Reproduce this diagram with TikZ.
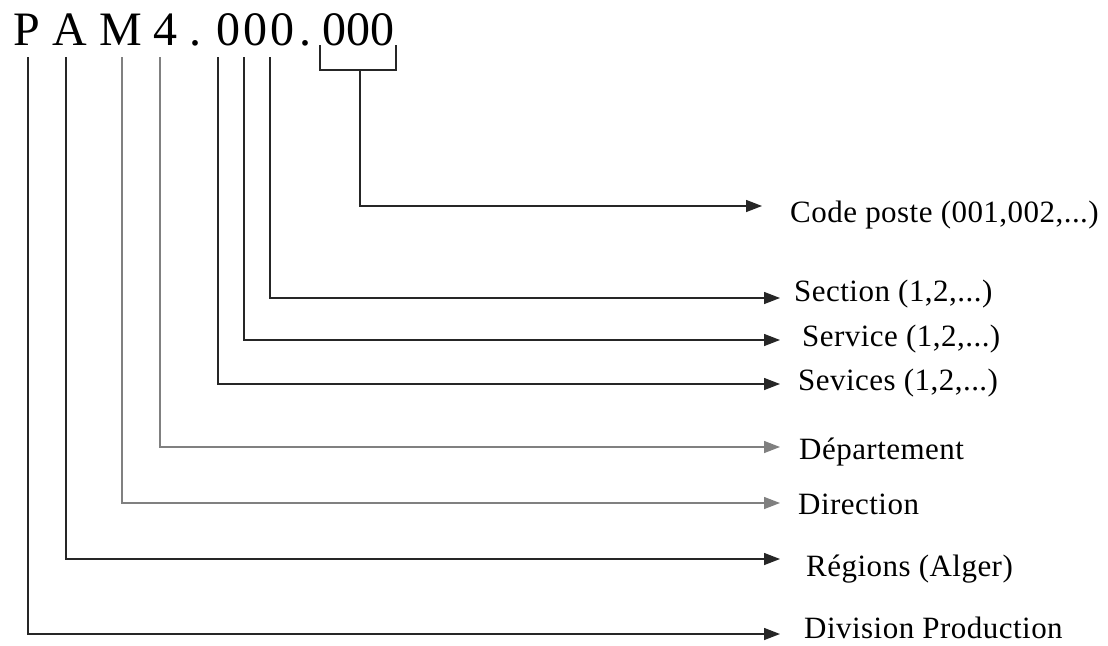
\documentclass[tikz,border=0pt]{standalone}
\usepackage{fontspec}
\setmainfont{Liberation Serif}
\newfontfamily\lblfont[LetterSpace=1.5]{Liberation Serif}
\newfontfamily\widefont[LetterSpace=7]{Liberation Serif}
\usetikzlibrary{arrows.meta}
\tikzset{
  x=1pt, y=-1pt,
  conn/.style={line width=1.4pt, draw=black!85},
  connlight/.style={line width=1.4pt, draw=black!50},
  tip/.style={-{Triangle[length=16pt,width=12pt]}},
  lbl/.style={anchor=base west, inner sep=0pt, font=\lblfont\fontsize{31}{36}\selectfont},
  code/.style={anchor=base west, inner sep=0pt, font=\fontsize{48}{56}\selectfont},
}
\begin{document}
\begin{tikzpicture}
\useasboundingbox (0,0) rectangle (1108,645);
\fill[white] (0,0) rectangle (1108,645);

% the code itself, one part per node
\node[code] (cP)  at (13,45)  {P};
\node[code] (cA)  at (52,45)  {A};
\node[code] (cM)  at (99,45)  {M};
\node[code] (c4)  at (153,45) {4};
\node[code] (cd1) at (189,45) {.};
\node[code] (cg1) at (216,45) {\widefont 000};
\node[code] (cd2) at (299,45) {.};
\node[code] (cg2) at (322,45) {000};

% starting points under each part of the code
\coordinate (sP) at (28,57);
\coordinate (sA) at (66,57);
\coordinate (sM) at (122,57);
\coordinate (s4) at (160,57);
\coordinate (s1) at (218,57);
\coordinate (s2) at (244,57);
\coordinate (s3) at (270,57);
\coordinate (bl) at (320,45);
\coordinate (br) at (396,45);
\coordinate (bm) at (360,70);

% arrow tips
\coordinate (tCode) at (762,206);
\coordinate (tSec)  at (780,298);
\coordinate (tSer)  at (780,340);
\coordinate (tSev)  at (780,384);
\coordinate (tDep)  at (780,447);
\coordinate (tDir)  at (780,503);
\coordinate (tReg)  at (780,559);
\coordinate (tDiv)  at (780,634);

% labels
\node[lbl] (lCode) at (790,222) {Code poste (001,002,...)};
\node[lbl] (lSec)  at (794,301) {Section (1,2,...)};
\node[lbl] (lSer)  at (802,346) {Service (1,2,...)};
\node[lbl] (lSev)  at (798,390) {Sevices (1,2,...)};
\node[lbl] (lDep)  at (799,459) {Département};
\node[lbl] (lDir)  at (798,514) {Direction};
\node[lbl] (lReg)  at (806,576) {Régions (Alger)};
\node[lbl] (lDiv)  at (804,638) {Division Production};

% bracket over the last group of digits
\draw[conn] (bl) -- (bl |- bm) -- (br |- bm) -- (br);

% connectors
\draw[conn,tip] (bm) |- (tCode);
\draw[conn,tip] (s3) |- (tSec);
\draw[conn,tip] (s2) |- (tSer);
\draw[conn,tip] (s1) |- (tSev);
\draw[connlight,tip] (s4) |- (tDep);
\draw[connlight,tip] (sM) |- (tDir);
\draw[conn,tip] (sA) |- (tReg);
\draw[conn,tip] (sP) |- (tDiv);
\end{tikzpicture}
\end{document}
